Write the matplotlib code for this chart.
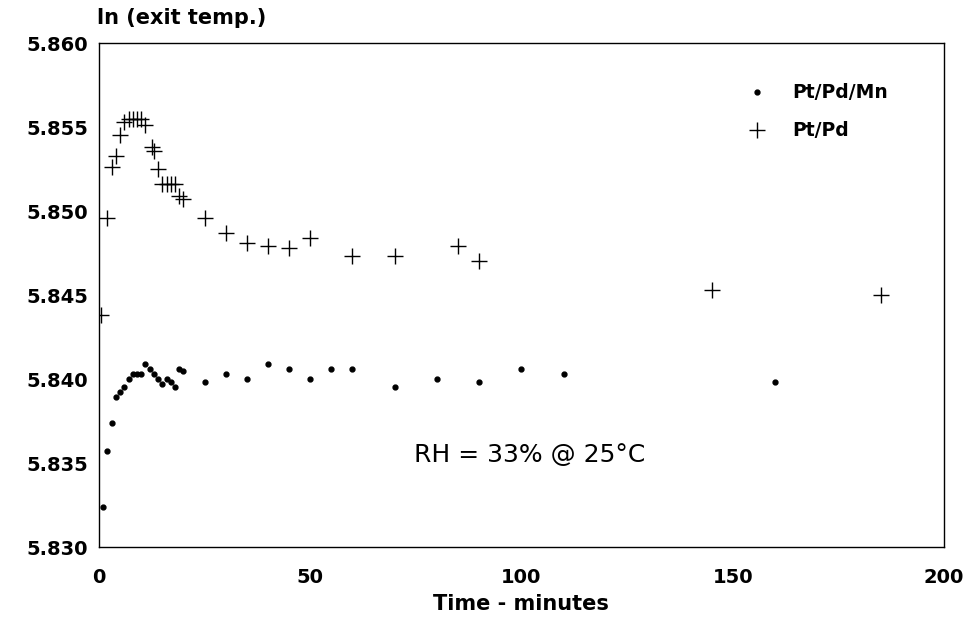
import matplotlib.pyplot as plt

# Pt/Pd/Mn series (dots)
t_mn = [1, 2, 3, 4, 5, 6, 7, 8, 9, 10, 11, 12, 13, 14, 15, 16, 17, 18, 19, 20,
        25, 30, 35, 40, 45, 50, 55, 60, 70, 80, 90, 100, 110, 160]
ln_mn = [5.8324, 5.8357, 5.8374, 5.8389, 5.8392, 5.8395, 5.8400, 5.8403, 5.8403, 5.8403,
         5.8409, 5.8406, 5.8403, 5.8400, 5.8397, 5.8400, 5.8398, 5.8395, 5.8406, 5.8405,
         5.8398, 5.8403, 5.8400, 5.8409, 5.8406, 5.8400, 5.8406, 5.8406, 5.8395, 5.8400,
         5.8398, 5.8406, 5.8403, 5.8398]

# Pt/Pd series (plus)
t_pd = [0.5, 2, 3, 4, 5, 6, 7, 8, 9, 10, 11, 12.5, 13, 14, 15, 16, 17, 18, 19, 20,
        25, 30, 35, 40, 45, 50, 60, 70, 85, 90, 145, 185]
ln_pd = [5.8438, 5.8496, 5.8526, 5.8533, 5.8545, 5.8553, 5.8555, 5.8555, 5.8555, 5.8555,
         5.8551, 5.8538, 5.8536, 5.8525, 5.8516, 5.8516, 5.8516, 5.8516, 5.8509, 5.8507,
         5.8496, 5.8487, 5.8481, 5.8479, 5.8478, 5.8484, 5.8473, 5.8473, 5.8479, 5.8470,
         5.8453, 5.8450]

xticks = [0, 50, 100, 150, 200]
yticks = [5.830, 5.835, 5.840, 5.845, 5.850, 5.855, 5.860]

plt.rcParams['font.family'] = 'DejaVu Sans'

fig = plt.figure(figsize=(9.74, 6.19), dpi=100)
ax = fig.add_axes([0.1016, 0.1163, 0.8675, 0.8142])

ax.plot(t_mn, ln_mn, linestyle='none', marker='o', markersize=3.5, color='black', label='Pt/Pd/Mn')
ax.plot(t_pd, ln_pd, linestyle='none', marker='+', markersize=12, markeredgewidth=1.0,
        color='black', label='Pt/Pd')

ax.set_xlim(0, 200)
ax.set_ylim(5.830, 5.860)
ax.set_xticks(xticks)
ax.set_xticklabels([str(v) for v in xticks], fontsize=14, fontweight='bold')
ax.set_yticks(yticks)
ax.set_yticklabels(['%.3f' % v for v in yticks], fontsize=14, fontweight='bold')
ax.tick_params(axis='both', length=0)
ax.tick_params(axis='x', pad=15)
ax.tick_params(axis='y', pad=8)
for s in ax.spines.values():
    s.set_linewidth(1.0)

ax.set_xlabel('Time - minutes', fontsize=15, fontweight='bold', labelpad=5)
fig.text(0.0996, 0.971, 'ln (exit temp.)', fontsize=15, fontweight='bold', ha='left', va='center')

ax.text(0.510, 0.182, 'RH = 33% @ 25°C', transform=ax.transAxes, fontsize=18,
        ha='center', va='center')

ax.legend(loc='upper left', bbox_to_anchor=(0.763, 0.92), frameon=False,
          prop={'weight': 'bold', 'size': 13.5}, borderpad=0, handlelength=1.4,
          handletextpad=1.2, labelspacing=1.0, borderaxespad=0)

fig.savefig('out.png', dpi=100)
